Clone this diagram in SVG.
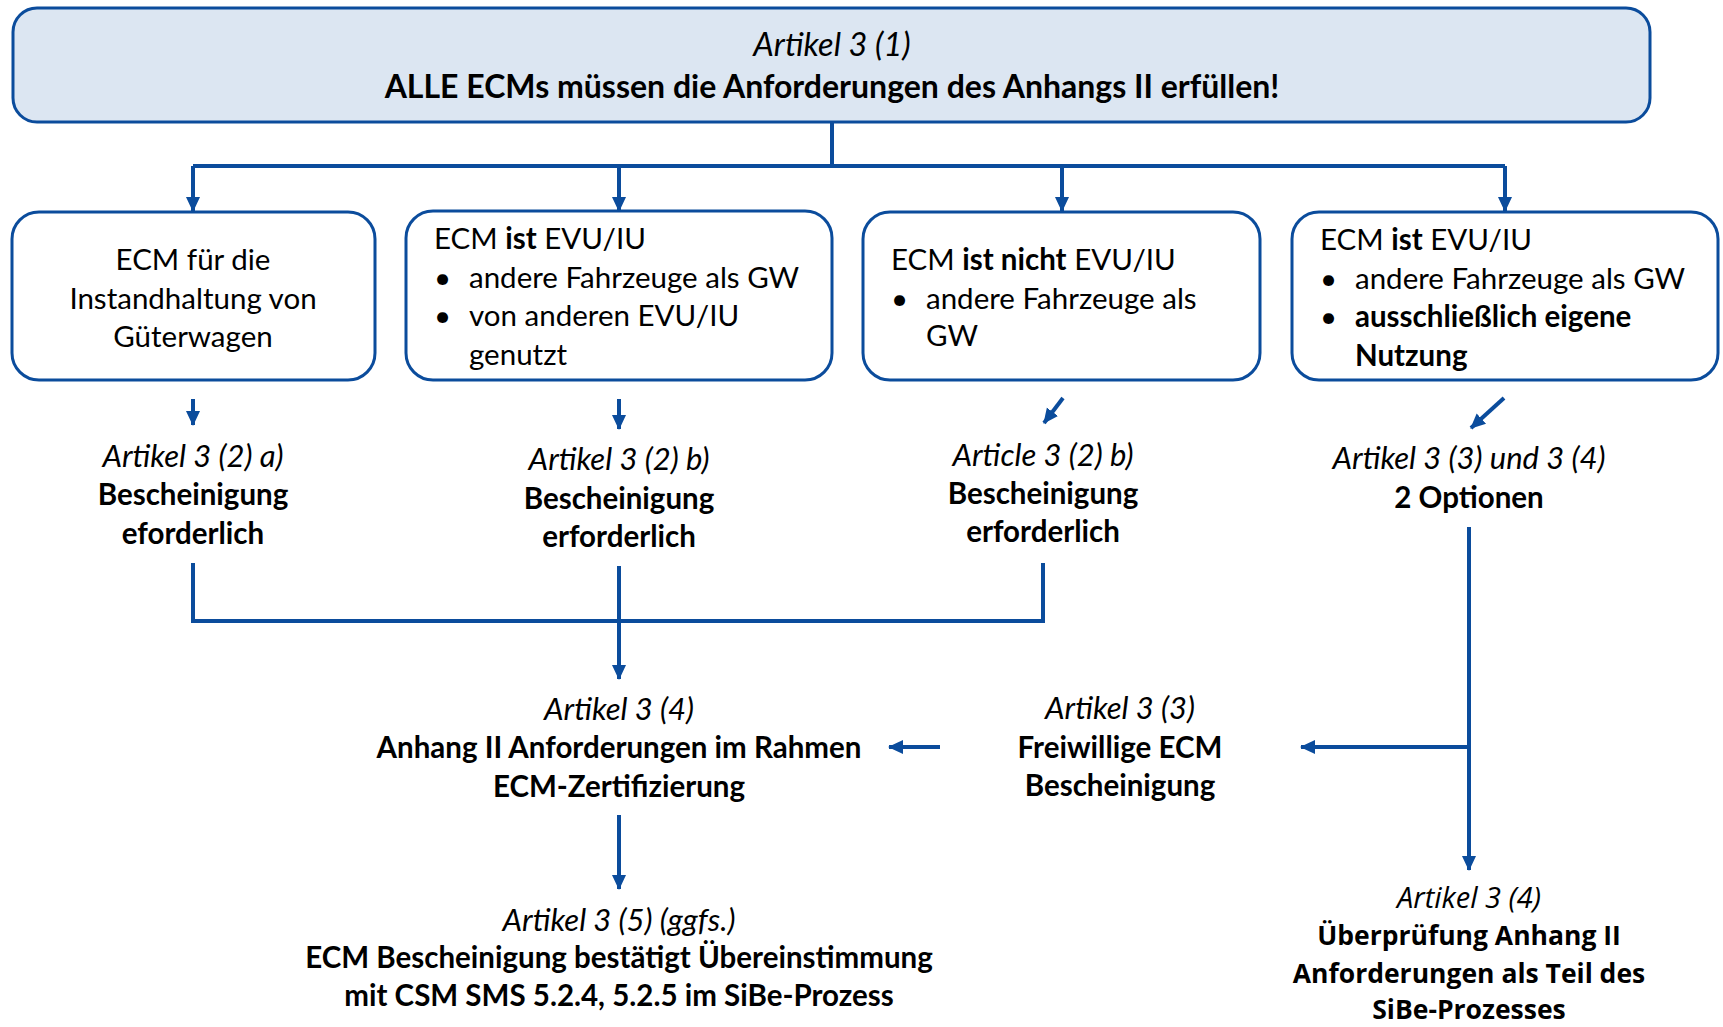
<svg xmlns="http://www.w3.org/2000/svg" width="1723" height="1027" viewBox="0 0 1723 1027">
<style>
.box{fill:#ffffff;stroke:#0b4c9c;stroke-width:3}
.top{fill:#dce6f2;stroke:#0b4c9c;stroke-width:3}
.t{font-family:Lato,"Liberation Sans",sans-serif;font-size:29.5px;fill:#000}
.c{text-anchor:middle}
.i{font-style:italic;font-size:31px}
.b{font-weight:bold}
.s{font-family:"Open Sans","Noto Sans",sans-serif;font-size:26.5px;fill:#000;text-anchor:middle}
.s.i{font-size:29px}
.ln{fill:none;stroke:#0b4c9c;stroke-width:4}
.ar{fill:none;stroke:#0b4c9c;stroke-width:4;marker-end:url(#ah)}
</style>
<defs>
<marker id="ah" markerUnits="userSpaceOnUse" markerWidth="16" markerHeight="16" viewBox="0 0 16 16" refX="14" refY="8" orient="auto">
<path d="M0,1 L15,8 L0,15 Z" fill="#0b4c9c"/>
</marker>
</defs>
<rect width="1723" height="1027" fill="#ffffff"/>

<g id="top">
<rect class="top" x="13" y="8" width="1637" height="114" rx="24"/>
<text class="t c i" x="832" y="56" style="font-size:32.5px">Artikel 3 (1)</text>
<text class="t c b" x="832" y="98" style="font-size:32px">ALLE ECMs müssen die Anforderungen des Anhangs II erfüllen!</text>
</g>

<g id="box1">
<rect class="box" x="12" y="212" width="363" height="168" rx="27"/>
<text class="t c" x="193" y="270">ECM für die</text>
<text class="t c" x="193" y="309">Instandhaltung von</text>
<text class="t c" x="193" y="347">Güterwagen</text>
</g>

<g id="box2">
<rect class="box" x="406" y="211" width="426" height="169" rx="27"/>
<text class="t" x="434" y="249">ECM <tspan class="b">ist</tspan> EVU/IU</text>
<text class="t" x="434" y="288">•</text>
<text class="t" x="469" y="288">andere Fahrzeuge als GW</text>
<text class="t" x="434" y="326">•</text>
<text class="t" x="469" y="326">von anderen EVU/IU</text>
<text class="t" x="469" y="365">genutzt</text>
</g>

<g id="box3">
<rect class="box" x="863" y="212" width="397" height="168" rx="27"/>
<text class="t" x="891" y="270">ECM <tspan class="b">ist nicht</tspan> EVU/IU</text>
<text class="t" x="891" y="309">•</text>
<text class="t" x="926" y="309">andere Fahrzeuge als</text>
<text class="t" x="926" y="346">GW</text>
</g>

<g id="box4">
<rect class="box" x="1292" y="212" width="426" height="168" rx="27"/>
<text class="t" x="1320" y="250">ECM <tspan class="b">ist</tspan> EVU/IU</text>
<text class="t" x="1320" y="289">•</text>
<text class="t" x="1355" y="289">andere Fahrzeuge als GW</text>
<text class="t" x="1320" y="327">•</text>
<text class="t b" x="1355" y="327">ausschließlich eigene</text>
<text class="t b" x="1355" y="366">Nutzung</text>
</g>

<g id="label1">
<text class="t c i" x="193" y="467">Artikel 3 (2) a)</text>
<text class="t c b" x="193" y="505">Bescheinigung</text>
<text class="t c b" x="193" y="544">eforderlich</text>
</g>

<g id="label2">
<text class="t c i" x="619" y="470">Artikel 3 (2) b)</text>
<text class="t c b" x="619" y="509">Bescheinigung</text>
<text class="t c b" x="619" y="547">erforderlich</text>
</g>

<g id="label3">
<text class="t c i" x="1043" y="466">Article 3 (2) b)</text>
<text class="t c b" x="1043" y="504">Bescheinigung</text>
<text class="t c b" x="1043" y="542">erforderlich</text>
</g>

<g id="label4">
<text class="t c i" x="1469" y="469">Artikel 3 (3) und 3 (4)</text>
<text class="t c b" x="1469" y="508">2 Optionen</text>
</g>

<g id="cert">
<text class="t c i" x="619" y="720">Artikel 3 (4)</text>
<text class="t c b" x="619" y="758">Anhang II Anforderungen im Rahmen</text>
<text class="t c b" x="619" y="797">ECM-Zertifizierung</text>
</g>

<g id="voluntary">
<text class="t c i" x="1120" y="719">Artikel 3 (3)</text>
<text class="t c b" x="1120" y="758">Freiwillige ECM</text>
<text class="t c b" x="1120" y="796">Bescheinigung</text>
</g>

<g id="sms">
<text class="t c i" x="619" y="931">Artikel 3 (5) (ggfs.)</text>
<text class="t c b" x="619" y="968">ECM Bescheinigung bestätigt Übereinstimmung</text>
<text class="t c b" x="619" y="1006">mit CSM SMS 5.2.4, 5.2.5 im SiBe-Prozess</text>
</g>

<g id="sibe">
<text class="s i" x="1469" y="908">Artikel 3 (4)</text>
<text class="s b" x="1469" y="945">Überprüfung Anhang II</text>
<text class="s b" x="1469" y="983">Anforderungen als Teil des</text>
<text class="s b" x="1469" y="1019">SiBe-Prozesses</text>
</g>

<g id="connectors">
<path class="ln" d="M832,122 V166 M193,166 H1505"/>
<path class="ar" d="M193,166 V211"/>
<path class="ar" d="M619,166 V211"/>
<path class="ar" d="M1062,166 V211"/>
<path class="ar" d="M1505,166 V211"/>
<path class="ar" d="M193,399 V425"/>
<path class="ar" d="M619,399 V429"/>
<path class="ar" d="M1063,398 L1044,423"/>
<path class="ar" d="M1504,398 L1471,428"/>
<path class="ln" d="M193,563 V621 H1043 V563"/>
<path class="ar" d="M619,566 V679"/>
<path class="ar" d="M940,747 H889"/>
<path class="ar" d="M1469,527 V870"/>
<path class="ar" d="M1469,747 H1301"/>
<path class="ar" d="M619,815 V889"/>
</g>
</svg>
